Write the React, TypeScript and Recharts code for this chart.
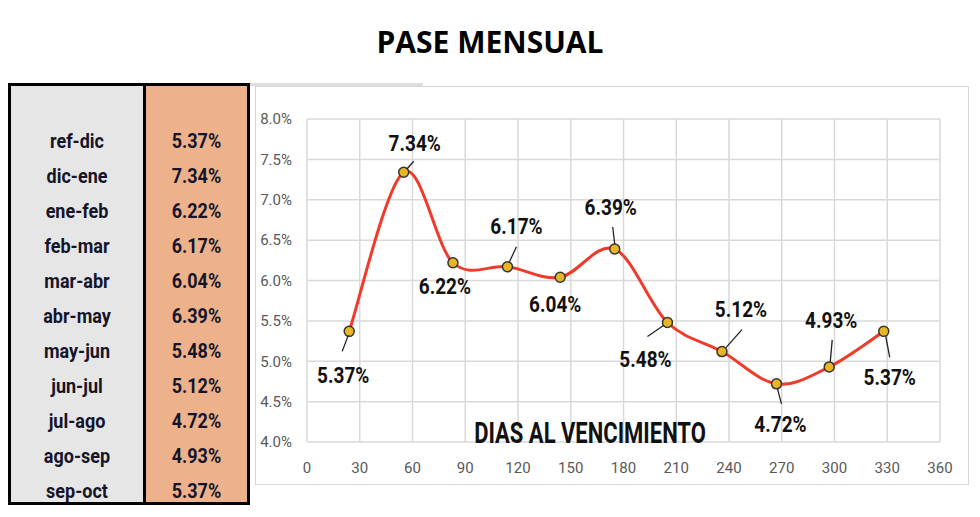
import React from 'react';
import { LineChart, Line, XAxis, YAxis, CartesianGrid, LabelList } from 'recharts';

const periodos = ['ref-dic', 'dic-ene', 'ene-feb', 'feb-mar', 'mar-abr', 'abr-may', 'may-jun', 'jun-jul', 'jul-ago', 'ago-sep', 'sep-oct'];
const pases = [5.37, 7.34, 6.22, 6.17, 6.04, 6.39, 5.48, 5.12, 4.72, 4.93, 5.37];
const diasVto = [24, 55, 83, 114, 144, 175, 205, 236, 267, 297, 328];
const xTicks = [0, 30, 60, 90, 120, 150, 180, 210, 240, 270, 300, 330, 360];
const yTicks = [4, 4.5, 5, 5.5, 6, 6.5, 7, 7.5, 8];

const chartData = diasVto.map((dias, i) => ({ dias, pase: pases[i] }));

// where each data label sits relative to its point (text centre + leader line)
const labelPos = [
  { dx: -6, dy: 44, lead: [-1, 4, -7, 20] },
  { dx: 11, dy: -29, lead: [3, -3, 10, -11] },
  { dx: -8, dy: 24, lead: null },
  { dx: 9, dy: -40, lead: [2, -5, 9, -20] },
  { dx: -5, dy: 27, lead: null },
  { dx: -4, dy: -41, lead: [0, -5, -2, -22] },
  { dx: -22, dy: 37, lead: [-4, 3, -20, 14] },
  { dx: 19, dy: -42, lead: [4, -4, 20, -22] },
  { dx: 4, dy: 41, lead: [1, 5, 5, 20] },
  { dx: 2, dy: -46, lead: [1, -5, 3, -27] },
  { dx: 6, dy: 46, lead: [2, 5, 6, 26] },
];

const font = "Roboto, 'Liberation Sans', sans-serif";

// excel-like smoothed line (catmull-rom through the points)
const excelSmooth = (ctx: any) => {
  let pts: number[][] = [];
  return {
    areaStart() {},
    areaEnd() {},
    lineStart() { pts = []; },
    point(x: number, y: number) { pts.push([+x, +y]); },
    lineEnd() {
      if (!pts.length) return;
      ctx.moveTo(pts[0][0], pts[0][1]);
      for (let i = 0; i < pts.length - 1; i++) {
        const a = pts[i - 1] || pts[i];
        const b = pts[i];
        const c = pts[i + 1];
        const d = pts[i + 2] || c;
        ctx.bezierCurveTo(
          b[0] + (c[0] - a[0]) / 6, b[1] + (c[1] - a[1]) / 6,
          c[0] - (d[0] - b[0]) / 6, c[1] - (d[1] - b[1]) / 6,
          c[0], c[1]
        );
      }
    },
  };
};

const Marker = (props: any) => {
  const { cx, cy, index } = props;
  if (cx == null || cy == null) return null;
  return <circle key={`m-${index}`} cx={cx} cy={cy} r={5} fill="#e8b526" stroke="#333" strokeWidth={1.5} />;
};

const renderLabel = (props: any) => {
  const vb = props.viewBox || {};
  const x = vb.x ?? props.x;
  const y = vb.y ?? props.y;
  const p = labelPos[props.index];
  if (!p || x == null) return null;
  return (
    <g key={`l-${props.index}`}>
      {p.lead && (
        <line x1={x + p.lead[0]} y1={y + p.lead[1]} x2={x + p.lead[2]} y2={y + p.lead[3]} stroke="#222" strokeWidth={1.3} />
      )}
      <text
        transform={`translate(${x + p.dx} ${y + p.dy}) scale(1 1.15)`}
        textAnchor="middle"
        dominantBaseline="central"
        fontFamily={font}
        fontWeight={700}
        fontSize={19}
        fill="#111"
      >
        {Number(props.value).toFixed(2)}%
      </text>
    </g>
  );
};

const cellText: React.CSSProperties = {
  height: 35,
  lineHeight: '35px',
  textAlign: 'center',
  fontFamily: font,
  fontWeight: 700,
  fontSize: 18,
  color: '#15152a',
};

function Tabla() {
  return (
    <div style={{ position: 'absolute', left: 8, top: 83, width: 242, height: 422, border: '3px solid #000', boxSizing: 'border-box', display: 'flex' }}>
      <div style={{ width: 132, background: '#e7e6e6', paddingTop: 37, boxSizing: 'border-box' }}>
        {periodos.map((p) => (
          <div key={p} style={cellText}>
            <span style={{ display: 'inline-block', transform: 'scaleY(1.15)' }}>{p}</span>
          </div>
        ))}
      </div>
      <div style={{ width: 3, background: '#000' }} />
      <div style={{ flex: 1, background: '#edb28b', paddingTop: 37, boxSizing: 'border-box' }}>
        {pases.map((v, i) => (
          <div key={i} style={cellText}>
            <span style={{ display: 'inline-block', transform: 'scaleY(1.15)' }}>{v.toFixed(2)}%</span>
          </div>
        ))}
      </div>
    </div>
  );
}

export default function App() {
  return (
    <div style={{ position: 'absolute', left: 0, top: 0, width: 980, height: 517, background: '#fff', overflow: 'hidden' }}>
      <div style={{ position: 'absolute', left: 0, width: 980, top: 22, textAlign: 'center', fontFamily: "'Open Sans', sans-serif", fontWeight: 700, fontSize: 30, lineHeight: '40px', color: '#000' }}>
        PASE MENSUAL
      </div>

      {/* spreadsheet leftovers around the chart */}
      <div style={{ position: 'absolute', left: 250, top: 83, width: 173, height: 3, background: '#dedede' }} />
      <div style={{ position: 'absolute', left: 255, top: 86, width: 714, height: 399, border: '1px solid #d6d6d6', boxSizing: 'border-box' }} />

      <Tabla />

      <div style={{ position: 'absolute', left: 250, top: 86 }}>
        <LineChart width={720} height={400} data={chartData} margin={{ top: 33, right: 30, bottom: 14, left: 0 }}>
          <CartesianGrid stroke="#d9d9d9" strokeWidth={1.5} />
          <XAxis
            dataKey="dias"
            type="number"
            domain={[0, 360]}
            ticks={xTicks}
            interval={0}
            height={30}
            axisLine={false}
            tickLine={false}
            tickSize={0}
            tickMargin={20}
            tick={{ fill: '#595959', fontSize: 15, fontFamily: font }}
          />
          <YAxis
            type="number"
            domain={[4, 8]}
            ticks={yTicks}
            interval={0}
            width={57}
            axisLine={false}
            tickLine={false}
            tickSize={0}
            tickMargin={15}
            tickFormatter={(v: number) => `${v.toFixed(1)}%`}
            tick={{ fill: '#595959', fontSize: 15, fontFamily: font }}
          />
          <Line
            dataKey="pase"
            type={excelSmooth as any}
            stroke="#f03a2c"
            strokeWidth={3}
            dot={Marker}
            activeDot={false}
            isAnimationActive={false}
          >
            <LabelList dataKey="pase" content={renderLabel} />
          </Line>
        </LineChart>
      </div>

      <svg style={{ position: 'absolute', left: 0, top: 0 }} width={980} height={517} pointerEvents="none">
        <text transform="translate(590 443) scale(1 1.35)" textAnchor="middle" fontFamily={font} fontWeight={700} fontSize={22} fill="#111">
          DIAS AL VENCIMIENTO
        </text>
      </svg>
    </div>
  );
}
